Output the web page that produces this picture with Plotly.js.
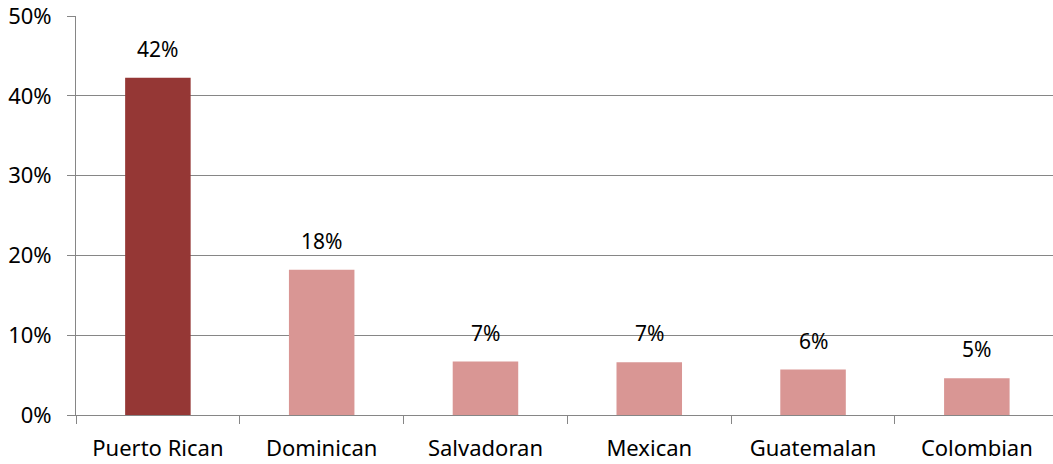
<!DOCTYPE html>
<html>
<head>
<meta charset="utf-8">
<script src="https://cdn.plot.ly/plotly-3.0.1.min.js"></script>
<style>html,body{margin:0;padding:0;background:#fff;}#chart{width:1053px;height:464px;}</style>
</head>
<body>
<div id="chart"></div>
<script>
const categories = ["Puerto Rican", "Dominican", "Salvadoran", "Mexican", "Guatemalan", "Colombian"];
const values = [42.3, 18.2, 6.7, 6.6, 5.7, 4.6];
const labels = ["42%", "18%", "7%", "7%", "6%", "5%"];
const barColors = ["#953735", "#D99694", "#D99694", "#D99694", "#D99694", "#D99694"];
const yTickVals = [0, 10, 20, 30, 40, 50];
const yTickText = ["0%", "10%", "20%", "30%", "40%", "50%"];

const FONT = "Noto Sans, Open Sans, sans-serif";
const FS = 22;

const trace = {
  type: "bar",
  x: categories,
  y: values,
  marker: {color: barColors, line: {width: 0}},
  hoverinfo: "none"
};

const annotations = categories.map((c, i) => ({
  x: c, y: values[i], text: labels[i], showarrow: false,
  xref: "x", yref: "y", yanchor: "bottom", yshift: 13,
  font: {family: FONT, size: 21, color: "#000"}
}));

const layout = {
  width: 1053, height: 464,
  margin: {l: 76, r: 0, t: 16, b: 49},
  paper_bgcolor: "#fff", plot_bgcolor: "#fff",
  showlegend: false,
  bargap: 0.6,
  font: {family: FONT, size: FS, color: "#000"},
  xaxis: {
    type: "category",
    range: [-0.5, 5.465],
    tickson: "boundaries",
    ticks: "outside", ticklen: 8, tickcolor: "#868686", tickwidth: 1,
    ticklabelstandoff: 14,
    showline: true, linecolor: "#868686", linewidth: 1,
    showgrid: false, zeroline: false,
    tickfont: {family: FONT, size: FS, color: "#000"},
    fixedrange: true
  },
  yaxis: {
    range: [0, 50.03],
    tickvals: yTickVals, ticktext: yTickText,
    ticks: "outside", ticklen: 8, tickcolor: "#868686", tickwidth: 1,
    ticklabelstandoff: 11,
    ticklabeloverflow: "allow",
    showline: true, linecolor: "#868686", linewidth: 1,
    showgrid: true, gridcolor: "#868686", gridwidth: 1,
    zeroline: false,
    tickfont: {family: FONT, size: FS, color: "#000"},
    fixedrange: true
  },
  annotations: annotations
};

Plotly.newPlot("chart", [trace], layout, {staticPlot: true, displayModeBar: false});
</script>
</body>
</html>
